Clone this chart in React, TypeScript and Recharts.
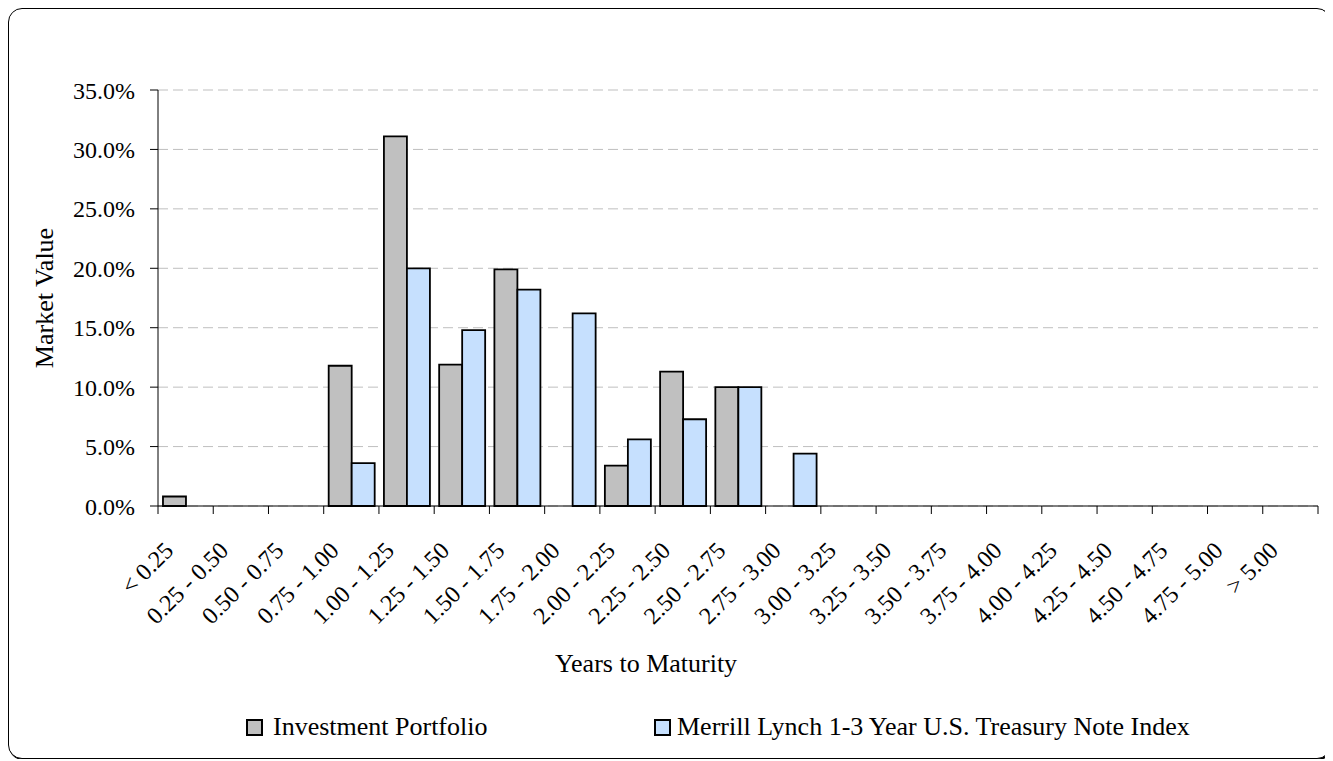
import { BarChart, Bar, XAxis, YAxis, CartesianGrid } from "recharts";

const categories = [
  "< 0.25", "0.25 - 0.50", "0.50 - 0.75", "0.75 - 1.00", "1.00 - 1.25", "1.25 - 1.50",
  "1.50 - 1.75", "1.75 - 2.00", "2.00 - 2.25", "2.25 - 2.50", "2.50 - 2.75", "2.75 - 3.00",
  "3.00 - 3.25", "3.25 - 3.50", "3.50 - 3.75", "3.75 - 4.00", "4.00 - 4.25", "4.25 - 4.50",
  "4.50 - 4.75", "4.75 - 5.00", "> 5.00",
];
const portfolio = [0.8, 0, 0, 11.8, 31.1, 11.9, 19.9, 0, 3.4, 11.3, 10.0, 0, 0, 0, 0, 0, 0, 0, 0, 0, 0];
const treasuryIndex = [0, 0, 0, 3.6, 20.0, 14.8, 18.2, 16.2, 5.6, 7.3, 10.0, 4.4, 0, 0, 0, 0, 0, 0, 0, 0, 0];
const yTicks = [0, 5, 10, 15, 20, 25, 30, 35];
const seriesNames = ["Investment Portfolio", "Merrill Lynch 1-3 Year U.S. Treasury Note Index"];

const data = categories.map((c, i) => ({ cat: c, portfolio: portfolio[i], index: treasuryIndex[i] }));

const FONT = '"Liberation Serif", "Times New Roman", serif';
const W = 1321;
const H = 749;
const PLOT_LEFT = 149;
const PLOT_RIGHT = 1309;
const band = (PLOT_RIGHT - PLOT_LEFT) / categories.length;

const GREY = "#C0C0C0";
const BLUE = "#C6E0FE";

// Excel-style ticks sit on category boundaries, labels slanted at 45deg
const XTick = ({ x, y, payload, index }: any) => {
  const half = band / 2;
  return (
    <g transform={`translate(${x},${y})`}>
      <line x1={-half} x2={-half} y1={-8} y2={0} stroke="#000" />
      {index === categories.length - 1 && <line x1={half} x2={half} y1={-8} y2={0} stroke="#000" />}
      <text x={-11} y={38} transform="rotate(-45, -11, 38)" textAnchor="end" fontSize={24} fontFamily={FONT} fill="#000">
        {payload.value}
      </text>
    </g>
  );
};

const Swatch = ({ color }: { color: string }) => (
  <span style={{ display: "inline-block", width: 17, height: 17, boxSizing: "border-box", border: "2px solid #000", background: color }} />
);

export default function App() {
  return (
    <div style={{ position: "relative", width: W, height: H, border: "1px solid #000", borderRadius: 14, boxShadow: "1px 1px 0 #000", fontFamily: FONT, background: "#fff" }}>
      <BarChart width={W} height={H} data={data} margin={{ top: 81, right: 12, left: 20, bottom: 60 }} barCategoryGap="9%" barGap={0}>
        <CartesianGrid vertical={false} stroke="#BFBFBF" strokeDasharray="10 5" />
        <XAxis
          dataKey="cat"
          interval={0}
          height={192}
          tickSize={8}
          tickMargin={0}
          tickLine={false}
          axisLine={{ stroke: "#000" }}
          tick={<XTick />}
          label={{ value: "Years to Maturity", position: "insideBottom", offset: 26, dx: -92, fontSize: 26, fontFamily: FONT, fill: "#000" }}
        />
        <YAxis
          width={129}
          domain={[0, 35]}
          ticks={yTicks}
          interval={0}
          tickSize={8}
          tickMargin={15}
          tickFormatter={(v: number) => `${v.toFixed(1)}%`}
          tick={{ fontSize: 24, fontFamily: FONT, fill: "#000" }}
          tickLine={{ stroke: "#000" }}
          axisLine={{ stroke: "#000" }}
          label={{ value: "Market Value", angle: -90, position: "insideLeft", offset: 15, fontSize: 26, fontFamily: FONT, fill: "#000", style: { textAnchor: "middle" } }}
        />
        <Bar dataKey="portfolio" name={seriesNames[0]} fill={GREY} stroke="#000" strokeWidth={1.8} isAnimationActive={false} />
        <Bar dataKey="index" name={seriesNames[1]} fill={BLUE} stroke="#000" strokeWidth={1.8} isAnimationActive={false} />
      </BarChart>
      <div style={{ position: "absolute", left: 237, top: 703, height: 30, display: "flex", alignItems: "center", fontSize: 26, color: "#000" }}>
        <Swatch color={GREY} />
        <span style={{ marginLeft: 10 }}>{seriesNames[0]}</span>
      </div>
      <div style={{ position: "absolute", left: 645, top: 703, height: 30, display: "flex", alignItems: "center", fontSize: 26, color: "#000" }}>
        <Swatch color={BLUE} />
        <span style={{ marginLeft: 6 }}>{seriesNames[1]}</span>
      </div>
    </div>
  );
}
